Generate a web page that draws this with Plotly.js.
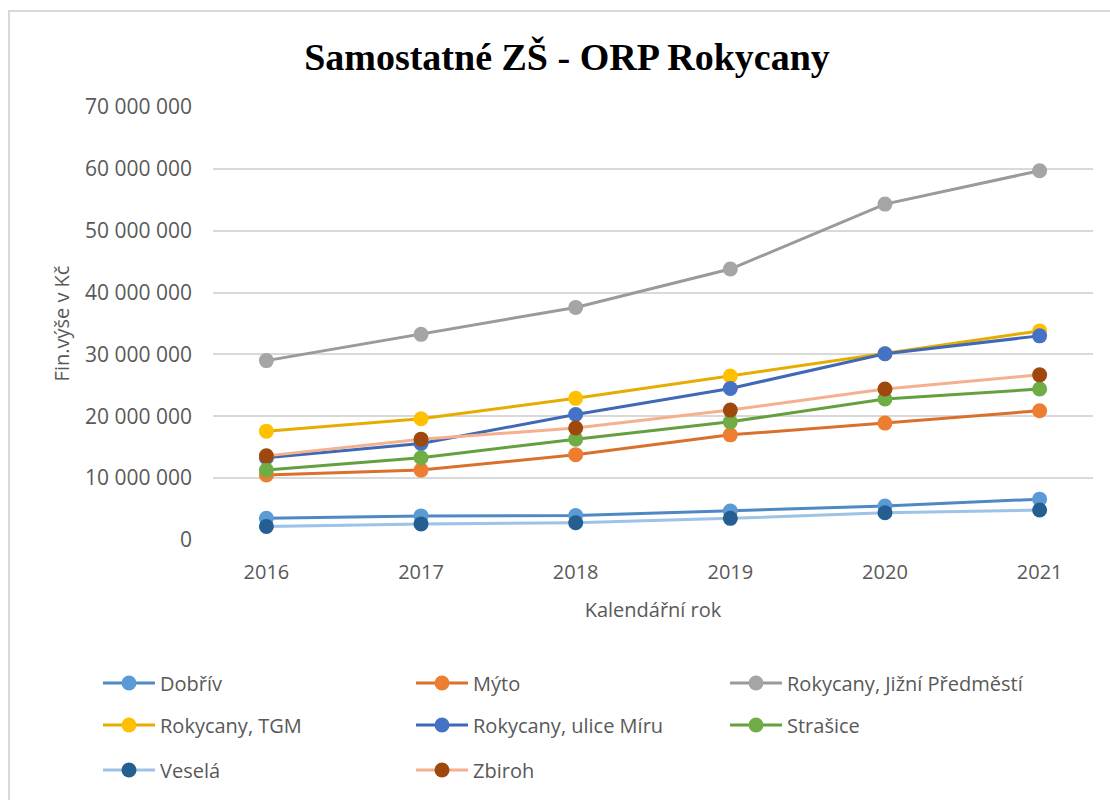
<!DOCTYPE html>
<html>
<head>
<meta charset="utf-8">
<script src="https://cdn.plot.ly/plotly-3.0.1.min.js"></script>
<style>
  html, body { margin: 0; padding: 0; background: #fff; overflow: hidden; }
  #chart { position: absolute; left: 0; top: 0; width: 1110px; height: 800px; }
  #frame { position: absolute; left: 8px; top: 10px; width: 1200px; height: 900px;
           border: 2px solid #d9d9d9; pointer-events: none; }
</style>
</head>
<body>
<div id="chart"></div>
<div id="frame"></div>
<script>
// roky na ose x
const years = ["2016", "2017", "2018", "2019", "2020", "2021"];

// financovani v Kc
const dobriv   = [3500000, 3900000, 3950000, 4700000, 5500000, 6600000];
const myto     = [10500000, 11300000, 13800000, 17000000, 18900000, 20900000];
const jizni    = [29000000, 33250000, 37600000, 43800000, 54300000, 59700000];
const tgm      = [17600000, 19600000, 22900000, 26500000, 30100000, 33800000];
const miru     = [13300000, 15600000, 20300000, 24500000, 30100000, 33000000];
const strasice = [11300000, 13300000, 16300000, 19100000, 22800000, 24400000];
const vesela   = [2200000, 2600000, 2800000, 3500000, 4400000, 4850000];
const zbiroh   = [13600000, 16300000, 18100000, 21000000, 24400000, 26700000];

const names = ["Dobřív", "Mýto", "Rokycany, Jižní Předměstí", "Rokycany, TGM",
               "Rokycany, ulice Míru", "Strašice", "Veselá", "Zbiroh"];
const values = [dobriv, myto, jizni, tgm, miru, strasice, vesela, zbiroh];
const lineColors   = ["#4f88c3", "#d9712d", "#9a9a9a", "#e6ac00", "#3f69b6", "#64a040", "#9dc3e6", "#f4b08f"];
const markerColors = ["#5b9bd5", "#ed7d31", "#a5a5a5", "#ffc000", "#4472c4", "#70ad47", "#255e91", "#9e480e"];

const font = "'Open Sans', 'Noto Sans', sans-serif";
const grey = "#595959";

// kazda polozka legendy ma vlastni legendu -> presna mrizka 3 sloupce
const legendCols = [98, 411, 725];
const legendRows = [683, 725, 770];
const legendKey = i => (i === 0 ? "legend" : "legend" + (i + 1));

const traces = names.map((n, i) => ({
  x: years, y: values[i], name: n,
  type: "scatter", mode: "lines+markers",
  line: { color: lineColors[i], width: 3 },
  marker: { color: markerColors[i], size: 15 },
  legend: legendKey(i)
}));

const layout = {
  width: 1110, height: 800,
  paper_bgcolor: "white", plot_bgcolor: "white",
  margin: { l: 213, r: 17, t: 107, b: 260 },
  separators: ", ",
  title: {
    text: "<b>Samostatné ZŠ - ORP Rokycany</b>",
    font: { family: "'Liberation Serif', 'DejaVu Serif', serif", size: 38, color: "#000" },
    xref: "container", yref: "container", x: 567 / 1110, y: 1 - 57 / 800,
    xanchor: "center", yanchor: "middle"
  },
  xaxis: {
    type: "category", showgrid: false, zeroline: false, showline: false, ticks: "",
    ticklabelstandoff: 18,
    tickfont: { family: font, size: 20, color: grey },
    title: { text: "Kalendářní rok", font: { family: font, size: 20, color: grey }, standoff: 18 }
  },
  yaxis: {
    range: [0, 70000000], dtick: 10000000, tickformat: ",.0f",
    showgrid: true, gridcolor: "#d9d9d9", gridwidth: 2, zeroline: false, showline: false, ticks: "",
    ticklabelstandoff: 20,
    tickfont: { family: font, size: 21, color: grey },
    title: { text: "Fin.výše v Kč", font: { family: font, size: 20, color: grey }, standoff: 10 }
  },
  showlegend: true
};

names.forEach((n, i) => {
  layout[legendKey(i)] = {
    orientation: "h", xref: "container", yref: "container",
    x: legendCols[i % 3] / 1110, y: 1 - legendRows[Math.floor(i / 3)] / 800,
    xanchor: "left", yanchor: "middle", itemwidth: 52,
    font: { family: font, size: 20, color: grey }, bgcolor: "rgba(0,0,0,0)"
  };
});

Plotly.newPlot("chart", traces, layout, { displayModeBar: false, staticPlot: true });
</script>
</body>
</html>
